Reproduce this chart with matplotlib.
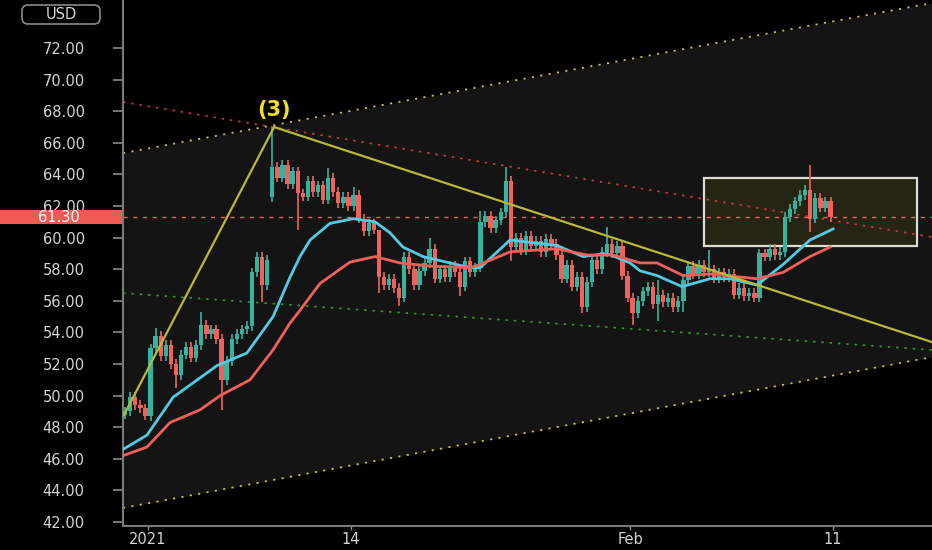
import numpy as np
import matplotlib.pyplot as plt
from matplotlib.patches import Rectangle, FancyBboxPatch
from matplotlib.transforms import IdentityTransform

# x axis is in trading days, day 0 = first session of 2021
t0 = -0.9
step = 0.2

closes = [49.0, 49.9, 49.4, 49.2, 48.7, 53.0, 53.8, 52.5, 53.2, 52.0,
          51.3, 52.6, 53.1, 52.4, 53.2, 54.5, 53.9, 54.2, 53.6, 51.0,
          52.2, 53.6, 53.9, 54.2, 54.4, 57.8, 58.8, 57.0, 58.6, 64.5,
          63.8, 64.6, 63.4, 64.2, 62.8, 62.6, 63.6, 62.9, 63.3, 62.4,
          63.8, 62.9, 62.2, 62.6, 62.0, 62.7, 61.2, 60.4, 60.9, 60.5,
          57.5, 57.0, 57.4, 56.8, 56.2, 58.8, 58.0, 57.0, 57.9, 58.4,
          59.3, 57.4, 58.0, 57.5, 58.2, 57.8, 56.9, 58.5, 57.8, 58.1,
          61.0, 61.4, 60.6, 61.1, 61.6, 63.6, 59.4, 60.0, 59.2, 60.1,
          59.5, 59.8, 59.1, 59.9, 59.6, 58.9, 57.4, 58.3, 56.9, 57.5,
          55.6, 57.2, 58.6, 58.0, 59.1, 59.6, 59.0, 59.5, 57.6, 56.2,
          55.2, 56.0, 56.6, 56.9, 55.8, 56.4, 55.9, 56.2, 55.6, 56.0,
          57.3, 58.2, 57.7, 58.3, 57.8, 58.0, 57.4, 57.8, 57.5, 57.7,
          56.4, 56.8, 56.3, 56.5, 56.2, 59.0, 58.8, 59.3, 58.9, 59.1,
          61.3, 61.8, 62.3, 62.7, 63.0, 61.2, 62.5, 61.9, 62.3, 61.3]
first_open = 48.8
gap_opens = {29: 62.6}
highs = {6: 54.3, 15: 55.3, 29: 67.0, 40: 64.4, 45: 63.2, 50: 60.5, 55: 59.1,
         60: 60.0, 70: 61.7, 75: 64.5, 95: 60.7, 105: 57.3, 115: 59.2, 135: 64.6}
lows = {4: 48.46, 10: 50.5, 19: 49.1, 27: 55.9, 29: 62.25, 34: 60.5, 50: 56.5,
        54: 55.7, 66: 56.3, 76: 58.5, 90: 55.2, 100: 54.5, 105: 54.7, 110: 55.3,
        124: 55.9, 135: 60.35}

fast_days = [-0.985, -0.04, 0.99, 2.72, 3.90, 4.93, 5.60, 5.99, 6.39, 7.17, 8.08,
             8.95, 9.54, 10.05, 10.84, 12.69, 13.09, 14.27, 16.12, 17.15, 18.09,
             19.0, 19.39, 20.06, 21.05, 22.15, 22.94, 24.0, 25.03, 26.09, 27.0]
fast_ma = [46.6, 47.5, 49.9, 51.9, 52.7, 55.0, 57.5, 58.8, 59.85, 60.9, 61.2,
           61.0, 60.3, 59.4, 58.8, 58.1, 58.1, 59.85, 59.5, 58.8, 59.0,
           58.4, 57.9, 57.6, 56.9, 57.4, 57.4, 57.0, 58.3, 59.85, 60.55]
slow_days = [-0.985, -0.04, 0.87, 2.05, 2.84, 4.02, 4.93, 5.60, 5.99, 6.78, 7.96,
             8.95, 9.93, 11.12, 12.69, 13.09, 14.27, 16.12, 17.30, 18.33, 19.39,
             20.06, 21.09, 22.15, 24.0, 25.03, 26.09, 26.88]
slow_ma = [46.2, 46.75, 48.3, 49.1, 50.0, 51.0, 52.9, 54.6, 55.4, 57.1, 58.45,
           58.8, 58.4, 58.2, 58.1, 58.3, 59.1, 59.3, 58.9, 58.9, 58.4,
           58.4, 57.6, 57.7, 57.4, 57.8, 58.8, 59.4]

# drawings: (day, price) end points
x_left, x_right = -0.985, 30.9
channel_top = [65.35, 74.85]
channel_bottom = [42.89, 52.44]
green_line = [56.49, 52.89]
red_line = [68.58, 60.04]
wave_days = [-0.95, 4.97, 30.9]
wave_prices = [48.77, 67.0, 53.39]
box_days = [21.92, 30.31]
box_prices = [59.47, 63.77]
last_price = 61.30

tick_days = [0, 8, 19, 27]
tick_names = ['2021', '14', 'Feb', '11']
y_ticks = np.arange(42, 73, 2)

up_col = '#36b39e'
down_col = '#f0625d'

fig = plt.figure(figsize=(9.32, 5.5), dpi=100, facecolor='black')
ax = fig.add_axes([123/932, 24/550, 809/932, 526/550])
ax.set_facecolor('black')
ax.set_xlim(x_left, x_right)
ax.set_ylim(41.75, 75.04)

xs = [x_left, x_right]
ax.fill_between(xs, channel_bottom, channel_top, color='#141414', zorder=0, lw=0)
ax.plot(xs, channel_top, color='#c8c040', lw=1.3, ls=(0, (1.2, 3.5)), zorder=2)
ax.plot(xs, channel_bottom, color='#c8c040', lw=1.3, ls=(0, (1.2, 3.5)), zorder=2)
ax.plot(xs, green_line, color='#2f9a2f', lw=1.2, ls=(0, (1.5, 3.5)), zorder=2)
ax.plot(xs, red_line, color='#c83a3a', lw=1.2, ls=(0, (1.5, 3.5)), zorder=2)
ax.axhline(last_price, color='#e86060', lw=1.0, ls=(0, (3, 4)), zorder=2)

ax.add_patch(Rectangle((box_days[0], box_prices[0]), box_days[1] - box_days[0],
                       box_prices[1] - box_prices[0], fc='#262513', ec='#dcdcd4',
                       lw=1.6, zorder=1))

# candles
prev = first_open
for i, c in enumerate(closes):
    x = t0 + i * step
    o = gap_opens.get(i, prev)
    h = highs.get(i, max(o, c) + 0.3)
    l = lows.get(i, min(o, c) - 0.3)
    col = up_col if c >= o else down_col
    ax.vlines(x, l, h, color=col, lw=1.2, zorder=4)
    ax.bar(x, max(abs(c - o), 0.05), bottom=min(o, c), width=0.17, color=col,
           lw=0, zorder=4)
    prev = c

ax.plot(fast_days, fast_ma, color='#55c8e2', lw=2.0, zorder=5)
ax.plot(slow_days, slow_ma, color='#f0605a', lw=2.0, zorder=5)
ax.plot(wave_days, wave_prices, color='#b8b83a', lw=1.6, zorder=6)
ax.text(wave_days[1], 68.1, '(3)', color='#f5e020', fontsize=15, fontweight='bold',
        ha='center', va='center', zorder=7)

for s in ['top', 'right']:
    ax.spines[s].set_visible(False)
for s in ['left', 'bottom']:
    ax.spines[s].set_color('#7a7a7a')
    ax.spines[s].set_linewidth(1.5)

ax.set_yticks(y_ticks)
ax.set_yticklabels([f'{v:.2f}' for v in y_ticks])
ax.tick_params(axis='y', colors='#8a8a8a', length=7.5, width=1.2, pad=2,
               labelcolor='#d4d4d4', labelsize=10.5)
for lab in ax.get_yticklabels():
    lab.set_horizontalalignment('center')
    lab.set_x(-46 / 809)

ax.set_xticks(tick_days)
ax.set_xticklabels(tick_names)
ax.tick_params(axis='x', colors='#8a8a8a', length=3, width=1.0, pad=1.5,
               labelcolor='#d4d4d4', labelsize=10.5)

# price tag and currency box on the scale
fig.add_artist(Rectangle((0, 550 - 224), 122, 14, transform=IdentityTransform(),
                         fc='#f05a55', ec='none', zorder=5))
fig.text(59/932, (550 - 217)/550, f'{last_price:.2f}', color='white', fontsize=10.5,
         ha='center', va='center', zorder=6)
fig.add_artist(FancyBboxPatch((22, 550 - 24), 78, 19, transform=IdentityTransform(),
                              boxstyle='round,pad=0,rounding_size=6',
                              fc='black', ec='#8a8a8a', lw=1.2, zorder=5))
fig.text(61/932, (550 - 14.5)/550, 'USD', color='#d4d4d4', fontsize=10.5,
         ha='center', va='center', zorder=6)

plt.savefig('out.png', dpi=100, facecolor='black')
